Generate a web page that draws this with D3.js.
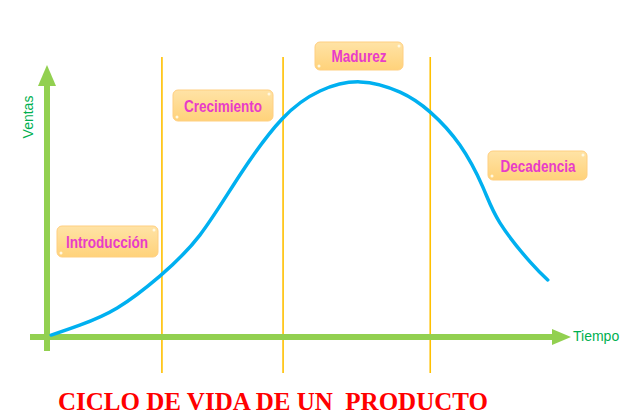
<!DOCTYPE html>
<html><head><meta charset="utf-8">
<script src="https://cdn.jsdelivr.net/npm/d3@7/dist/d3.min.js"></script>
<style>html,body{margin:0;padding:0;background:#fff;}svg{display:block;}</style>
</head><body>
<svg id="chart" width="628" height="418"></svg>
<script>
// ---- data ----
const time  = [0.8, 6.3, 13.5, 21.7, 29.4, 37.1, 45.2, 52.5, 60.2, 67.9, 73.7, 79.4, 83.8, 87.1, 92.9, 96.3];
const sales = [0.7, 4.3, 10.5, 22.0, 36.8, 58.5, 78.7, 88.8, 92.1, 88.4, 81.2, 69.3, 54.2, 41.2, 27.1, 20.6];
const phaseBounds = [22.1, 45.4, 73.7];
const phases = ["Introducción", "Crecimiento", "Madurez", "Decadencia"];
const title = "CICLO DE VIDA DE UN  PRODUCTO";
const xLabel = "Tiempo", yLabel = "Ventas";

// ---- layout ----
const svg = d3.select("#chart");
const x = d3.scaleLinear().domain([0, 100]).range([47, 567]);
const y = d3.scaleLinear().domain([0, 100]).range([337, 60]);
const green = "#92d050";

const defs = svg.append("defs");
const grad = defs.append("linearGradient").attr("id","boxg").attr("x1",0).attr("y1",0).attr("x2",0).attr("y2",1);
grad.append("stop").attr("offset","0%").attr("stop-color","#ffe3a6");
grad.append("stop").attr("offset","100%").attr("stop-color","#ffd27a");

// vertical phase lines
svg.selectAll("line.phase").data(phaseBounds).join("line")
  .attr("class","phase")
  .attr("x1", d => x(d)).attr("x2", d => x(d))
  .attr("y1", 57).attr("y2", 373)
  .attr("stroke", "#ffc000").attr("stroke-width", 1.6);

// axes
svg.append("line").attr("x1", x(0)).attr("x2", x(0)).attr("y1", 84).attr("y2", 351)
  .attr("stroke", green).attr("stroke-width", 6);
svg.append("path").attr("d", `M${x(0)},65 L${x(0)-9},86 L${x(0)+9},86 Z`).attr("fill", green);
svg.append("line").attr("x1", 30).attr("x2", 554).attr("y1", y(0)).attr("y2", y(0))
  .attr("stroke", green).attr("stroke-width", 6);
svg.append("path").attr("d", `M571,${y(0)} L552,${y(0)-8} L552,${y(0)+8} Z`).attr("fill", green);

// curve
const pts = time.map((t, i) => [t, sales[i]]);
svg.append("path").datum(pts)
  .attr("d", d3.line().x(d => x(d[0])).y(d => y(d[1])).curve(d3.curveNatural))
  .attr("fill", "none").attr("stroke", "#00b0f0").attr("stroke-width", 3.5).attr("stroke-linecap","round");

// phase labels
const labelLayout = [
  {cx: 107, base: 248, box: [57, 226, 101, 31], tl: 82},
  {cx: 223, base: 112, box: [173, 90, 100, 31], tl: 78},
  {cx: 359, base: 62,  box: [315, 42, 88, 28],  tl: 55},
  {cx: 538, base: 172, box: [488, 151, 99, 29], tl: 75}
];
const lg = svg.selectAll("g.lab").data(phases).join("g").attr("class","lab");
lg.append("rect")
  .attr("x", (d,i) => labelLayout[i].box[0]).attr("y", (d,i) => labelLayout[i].box[1])
  .attr("width", (d,i) => labelLayout[i].box[2]).attr("height", (d,i) => labelLayout[i].box[3])
  .attr("rx", 5).attr("fill", "url(#boxg)").attr("stroke", "#ffcf80").attr("stroke-width", 1);
lg.append("circle").attr("cx",(d,i)=>labelLayout[i].box[0]+4).attr("cy",(d,i)=>labelLayout[i].box[1]+labelLayout[i].box[3]-4)
  .attr("r",1.5).attr("fill","#fff8e0");
lg.append("circle").attr("cx",(d,i)=>labelLayout[i].box[0]+labelLayout[i].box[2]-4).attr("cy",(d,i)=>labelLayout[i].box[1]+4)
  .attr("r",1.5).attr("fill","#fff8e0");
lg.append("text")
  .attr("x", (d,i) => labelLayout[i].cx).attr("y", (d,i) => labelLayout[i].base)
  .attr("text-anchor","middle")
  .attr("textLength", (d,i) => labelLayout[i].tl).attr("lengthAdjust","spacingAndGlyphs")
  .attr("font-family","'Liberation Sans', Arial, sans-serif").attr("font-weight","bold").attr("font-size", 16)
  .attr("fill","#e83cc8").text(d => d);

// axis labels
svg.append("text").attr("transform","translate(33,117) rotate(-90)").attr("text-anchor","middle")
  .attr("font-family","'Liberation Sans', Arial, sans-serif").attr("font-size",14).attr("fill","#00b050").text(yLabel);
svg.append("text").attr("x",573).attr("y",341)
  .attr("font-family","'Liberation Sans', Arial, sans-serif").attr("font-size",14).attr("fill","#00b050").text(xLabel);

// title
svg.append("text").attr("x",58).attr("y",410).attr("xml:space","preserve")
  .attr("textLength",430).attr("lengthAdjust","spacingAndGlyphs")
  .attr("font-family","'Liberation Serif', 'Times New Roman', serif").attr("font-weight","bold").attr("font-size",25)
  .attr("fill","#ff0000").text(title);
</script>
</body></html>
